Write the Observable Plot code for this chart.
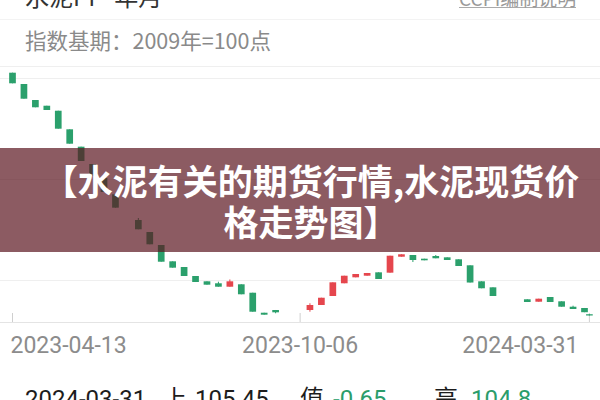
<!DOCTYPE html>
<html><head><meta charset="utf-8">
<script src="https://cdn.jsdelivr.net/npm/d3@7"></script>
<script src="https://cdn.jsdelivr.net/npm/@observablehq/plot@0.6"></script>
<style>
html,body{margin:0;padding:0;background:#fff;}
body{width:600px;height:400px;overflow:hidden;position:relative;font-family:"Noto Sans CJK SC","Noto Sans",Roboto,sans-serif;}
#topLeft{position:absolute;left:25px;top:-18px;font-size:24px;color:#333;line-height:28px;white-space:nowrap;}
#topRight{position:absolute;left:459px;top:-12px;font-size:19px;color:#9a9a9a;line-height:19px;border-bottom:1px solid #aaa;white-space:nowrap;}
#sep{position:absolute;left:0;top:19px;width:600px;height:1px;background:#f3f3f3;}
#subtitle{position:absolute;left:25px;top:26px;font-size:21.5px;color:#8a8a8a;line-height:28px;white-space:nowrap;}
#chart{position:absolute;left:0;top:60px;}
#banner{position:absolute;left:0;top:148px;width:600px;height:104px;background:rgba(91,22,31,0.7);color:#fff;font-weight:700;font-size:35px;line-height:41px;text-align:center;display:flex;align-items:center;justify-content:center;}
#banner div{margin-left:22px;}
#readout span{position:absolute;top:385px;font-size:24px;line-height:28px;white-space:nowrap;font-family:Roboto,"Noto Sans CJK SC",sans-serif;}
</style>
</head>
<body>
<div id="topLeft">水泥PI - 年月</div>
<div id="topRight">CCPI编制说明</div>
<div id="sep"></div>
<div id="subtitle">指数基期：2009年=100点</div>
<div id="chart"></div>
<div id="banner"><div>【水泥有关的期货行情,水泥现货价<br>格走势图】</div></div>
<div id="readout"></div>
<script>
// weekly candles (index base 2009 = 100)
const dates = ["2023-04-13","2023-04-20","2023-04-27","2023-05-04","2023-05-11","2023-05-18","2023-05-25","2023-06-01","2023-06-08","2023-06-15",
  "2023-06-29","2023-07-06","2023-07-13","2023-07-20","2023-07-27","2023-08-03","2023-08-10","2023-08-17","2023-08-24","2023-08-31","2023-09-07","2023-09-14","2023-09-21",
  "2023-10-12","2023-10-19","2023-10-26","2023-11-02","2023-11-09","2023-11-16","2023-11-23","2023-11-30","2023-12-07","2023-12-14","2023-12-21","2023-12-28",
  "2024-01-04","2024-01-11","2024-01-18","2024-01-25","2024-02-01",
  "2024-02-22","2024-02-29","2024-03-07","2024-03-14","2024-03-21","2024-03-28","2024-03-31"];
const opens  = [152.88,150.64,147.47,146.34,145.35,141.67,138.23,134.80,132.03,128.80,
  123.71,121.33,118.76,115.53,114.40,112.62,111.57,111.18,110.50,110.98,109.31,105.35,105.89,
  105.89,106.88,108.66,111.18,112.36,112.68,113.35,113.28,116.44,116.78,116.05,116.58,
  116.32,115.93,114.74,111.57,110.38,
  108.01,107.53,108.46,107.61,106.54,106.29,105.05];
const closes = [150.78,147.73,146.03,145.49,141.79,138.82,135.39,132.42,129.26,126.15,
  121.87,118.90,115.45,114.27,112.62,111.43,110.90,110.50,111.57,109.00,105.55,104.96,105.43,
  106.88,108.32,111.37,112.68,113.02,113.22,112.03,116.64,116.92,115.79,115.73,116.13,
  115.79,114.60,111.33,110.19,108.66,
  107.47,108.13,107.47,106.54,106.09,105.45,104.80];
const highs  = [152.88,150.64,147.47,146.34,145.35,141.67,138.23,134.80,132.03,128.80,
  124.11,121.33,118.76,115.53,114.40,112.62,111.57,111.49,111.93,110.98,109.31,105.35,105.89,
  107.22,108.32,111.37,112.68,113.02,113.22,113.35,116.64,116.92,116.78,116.05,116.78,
  116.32,115.93,114.74,111.57,110.38,
  108.01,108.13,108.46,107.61,106.74,106.29,105.05];
const lows   = [150.78,147.73,146.03,145.49,141.79,138.82,135.39,132.42,129.26,126.15,
  121.87,118.90,115.45,114.27,112.62,111.43,110.90,110.50,110.50,109.00,105.55,104.96,105.24,
  105.55,106.88,108.66,111.18,112.36,112.68,112.03,113.28,116.44,115.39,115.73,116.13,
  115.79,114.60,111.33,110.19,108.66,
  107.47,107.53,107.47,106.54,106.09,105.45,104.80];
const gridValues = [111.83, 131.83, 151.83, 154.21];
const baseValue = 103.51;
const tickDates = ["2023-04-13","2023-10-06","2024-03-31"];
const tickLabels = ["2023-04-13","2023-10-06","2024-03-31"];
const readLabels = ["2024-03-31","上","105.45","值","-0.65","高","104.8"];
const readColors = ["#1d1d1d","#1d1d1d","#1d1d1d","#1d1d1d","#2b9d6b","#1d1d1d","#2b9d6b"];
const readLefts = [25,163,195,300,333,434,471];

const GREEN = "#2ba06c", RED = "#e5464d";
const candles = dates.map((d,i)=>({date:new Date(d), open:opens[i], close:closes[i], high:highs[i], low:lows[i]}));
const up = candles.filter(d=>d.close>d.open), down = candles.filter(d=>d.close<=d.open);
const ticks = tickDates.map((d,i)=>({date:new Date(d), label:tickLabels[i]}));
const labelStyle = {x:"date", text:"label", frameAnchor:"bottom", dy:30, fontSize:23, fontFamily:"Roboto", fill:"#8c8c8c"};

const chart = Plot.plot({
  width:600, height:300, marginTop:0, marginLeft:0, marginRight:0, marginBottom:38,
  x:{type:"utc", domain:[new Date("2023-04-13"), new Date("2024-03-28")], range:[12,584], axis:null},
  y:{domain:[110,150], range:[229.24,27.24], axis:null},
  style:{background:"transparent", overflow:"visible"},
  marks:[
    Plot.ruleY(gridValues,{stroke:"#efefef"}),
    Plot.ruleY([baseValue],{stroke:"#e4e4e4"}),
    Plot.ruleX(ticks,{x:"date", stroke:"#cfcfcf", insetTop:253}),
    Plot.ruleX(down,{x:"date", y1:"low", y2:"high", stroke:GREEN, strokeWidth:1}),
    Plot.ruleX(down,{x:"date", y1:"open", y2:"close", stroke:GREEN, strokeWidth:6.7}),
    Plot.ruleX(up,{x:"date", y1:"low", y2:"high", stroke:RED, strokeWidth:1}),
    Plot.ruleX(up,{x:"date", y1:"open", y2:"close", stroke:RED, strokeWidth:6.7}),
    Plot.text(ticks.slice(0,1),{...labelStyle, textAnchor:"start", dx:-2}),
    Plot.text(ticks.slice(1,2),{...labelStyle, textAnchor:"middle"}),
    Plot.text(ticks.slice(2,3),{...labelStyle, textAnchor:"end", dx:-11})
  ]
});
document.getElementById("chart").appendChild(chart);

const ro = document.getElementById("readout");
readLabels.forEach((t,i)=>{
  const s = document.createElement("span");
  s.textContent = t; s.style.left = readLefts[i]+"px"; s.style.color = readColors[i];
  ro.appendChild(s);
});
</script>
</body></html>
